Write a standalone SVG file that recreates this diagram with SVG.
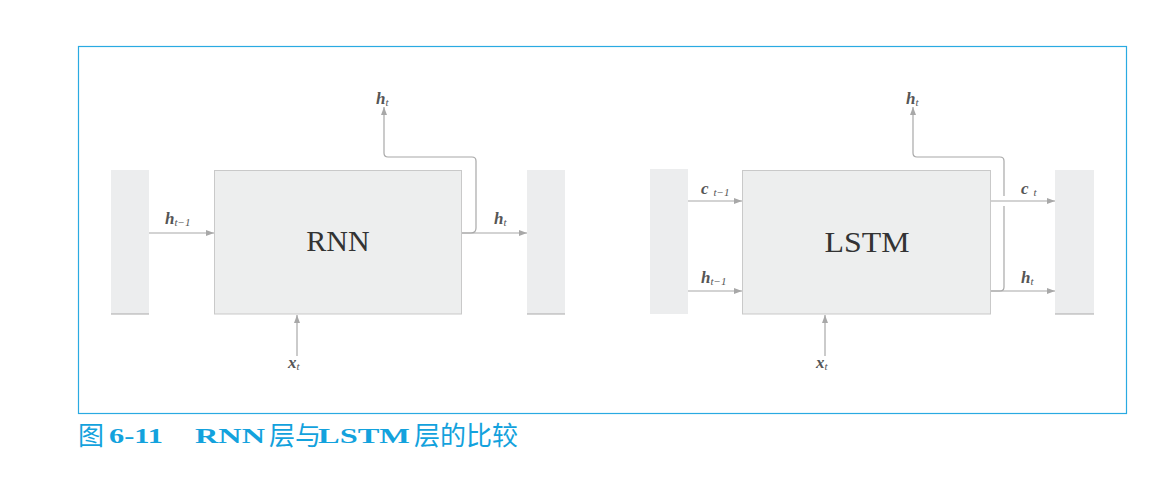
<svg xmlns="http://www.w3.org/2000/svg" width="1163" height="481" viewBox="0 0 1163 481">
<style>
.frame{fill:none;stroke:#2aaae2;stroke-width:1.2}
.box{fill:#edeeee;stroke:#c9c9c9;stroke-width:1}
.bar{fill:#ecedee;stroke:none}
.barline{stroke:#a9a9a9;stroke-width:1.2}
.conn{fill:none;stroke:#a8a8a8;stroke-width:1.2}
.big{font-family:"Liberation Serif",serif;font-size:30px;fill:#333;text-anchor:middle}
.lbl{font-family:"Liberation Serif",serif;font-size:17px;font-weight:bold;font-style:italic;fill:#555}
.sub{font-size:11px;font-weight:normal;font-style:italic}
.capc{font-family:"Noto Sans CJK SC",sans-serif;font-size:26px;fill:#13a2dd}
.capl{font-family:"Liberation Serif",serif;font-size:22px;font-weight:bold;fill:#13a2dd}
</style>
<defs>
<marker id="ah" viewBox="0 0 8 6" refX="8" refY="3" markerWidth="8" markerHeight="6" markerUnits="userSpaceOnUse" orient="auto">
<path d="M0,0 L8,3 L0,6 z" fill="#a8a8a8"/>
</marker>
</defs>
<rect class="frame" x="78.5" y="46.5" width="1048" height="367"/>

<g id="rnn-left-bar"><rect class="bar" x="111" y="170" width="38" height="144"/><line class="barline" x1="111" y1="314" x2="149" y2="314"/></g>
<g id="rnn-box"><rect class="box" x="214.5" y="170.5" width="247" height="143.5"/><text class="big" x="338" y="251">RNN</text></g>
<g id="rnn-right-bar"><rect class="bar" x="527" y="170" width="38" height="144"/><line class="barline" x1="527" y1="314" x2="565" y2="314"/></g>

<g id="lstm-left-bar"><rect class="bar" x="650" y="169" width="38" height="145"/></g>
<g id="lstm-box"><rect class="box" x="742.5" y="170.5" width="248" height="143.5"/><text class="big" x="867" y="252" textLength="85" lengthAdjust="spacingAndGlyphs">LSTM</text></g>
<g id="lstm-right-bar"><rect class="bar" x="1055" y="170" width="39" height="144"/><line class="barline" x1="1055" y1="314" x2="1094" y2="314"/></g>

<g id="connectors">
<line class="conn" x1="149" y1="233" x2="214" y2="233" marker-end="url(#ah)"/>
<line class="conn" x1="462" y1="233" x2="527" y2="233" marker-end="url(#ah)"/>
<path class="conn" d="M462,233 H471 Q476,233 476,228 V161 Q476,157 472,157 H388 Q384,157 384,153 V107" marker-end="url(#ah)"/>
<line class="conn" x1="297" y1="356" x2="297" y2="315" marker-end="url(#ah)"/>

<line class="conn" x1="688" y1="201" x2="742" y2="201" marker-end="url(#ah)"/>
<line class="conn" x1="688" y1="291" x2="742" y2="291" marker-end="url(#ah)"/>
<line class="conn" x1="991" y1="201" x2="1055" y2="201" marker-end="url(#ah)"/>
<line class="conn" x1="991" y1="291" x2="1055" y2="291" marker-end="url(#ah)"/>
<path class="conn" d="M991,291 H1000 Q1004,291 1004,287 V206"/>
<path class="conn" d="M1004,196 V161 Q1004,157 1000,157 H917 Q913,157 913,153 V107" marker-end="url(#ah)"/>
<line class="conn" x1="825" y1="356" x2="825" y2="315" marker-end="url(#ah)"/>
</g>

<g id="labels">
<text class="lbl" x="165" y="224">h<tspan class="sub" dy="2">t−1</tspan></text>
<text class="lbl" x="494" y="224">h<tspan class="sub" dy="2">t</tspan></text>
<text class="lbl" x="376" y="104">h<tspan class="sub" dy="2">t</tspan></text>
<text class="lbl" x="288" y="368">x<tspan class="sub" dy="2">t</tspan></text>

<text class="lbl" x="701" y="194">c<tspan class="sub" dx="5" dy="2">t−1</tspan></text>
<text class="lbl" x="701" y="283">h<tspan class="sub" dy="2">t−1</tspan></text>
<text class="lbl" x="1021" y="194">c<tspan class="sub" dx="5" dy="2">t</tspan></text>
<text class="lbl" x="1021" y="283">h<tspan class="sub" dy="2">t</tspan></text>
<text class="lbl" x="906" y="104">h<tspan class="sub" dy="2">t</tspan></text>
<text class="lbl" x="816" y="368">x<tspan class="sub" dy="2">t</tspan></text>
</g>

<g id="caption">
<text class="capc" x="78" y="445">图</text>
<text class="capl" x="109" y="443" textLength="54" lengthAdjust="spacingAndGlyphs">6-11</text>
<text class="capl" x="195" y="443" textLength="70" lengthAdjust="spacingAndGlyphs">RNN</text>
<text class="capc" x="269" y="445">层与</text>
<text class="capl" x="318" y="443" textLength="92" lengthAdjust="spacingAndGlyphs">LSTM</text>
<text class="capc" x="414" y="445">层的比较</text>
</g>
</svg>
